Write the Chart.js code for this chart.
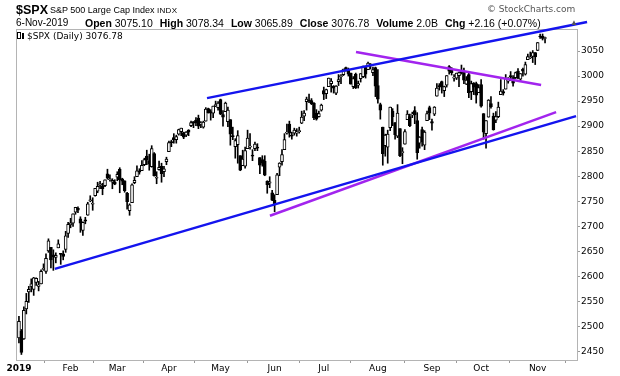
<!DOCTYPE html>
<html>
<head>
<meta charset="utf-8">
<script src="https://cdn.jsdelivr.net/npm/chart.js@4/dist/chart.umd.min.js"></script>
<style>
  body { margin: 0; background: #fff; }
  #wrap { position: relative; width: 620px; height: 376px; overflow: hidden; }
  #c { position: absolute; left: 0; top: 0; }
  .t { position: absolute; white-space: nowrap; color: #000; font-family: "Liberation Sans", Arial, sans-serif; line-height: 1; }
  .t b { font-weight: bold; font-size: 10.5px; }
  .gap { display: inline-block; width: 7px; }
</style>
</head>
<body>
<div id="wrap">
  <canvas id="c" width="620" height="376"></canvas>
  <div class="t" style="left:16px;top:4px;font-size:12.5px;font-weight:bold">$SPX</div>
  <div class="t" style="left:50px;top:6px;font-size:9px">S&amp;P 500 Large Cap Index</div>
  <div class="t" style="left:157px;top:7px;font-size:8px;letter-spacing:0.3px">INDX</div>
  <div class="t" style="left:487px;top:5px;font-size:9px;color:#555;font-family:'DejaVu Sans',sans-serif">© StockCharts.com</div>
  <div class="t" style="left:16px;top:18px;font-size:10px">6-Nov-2019</div>
  <div class="t" style="left:85px;top:18px;font-size:10.5px"><b>Open</b> 3075.10<span class="gap"></span><b>High</b> 3078.34<span class="gap"></span><b>Low</b> 3065.89<span class="gap"></span><b>Close</b> 3076.78<span class="gap"></span><b>Volume</b> 2.0B<span class="gap"></span><b>Chg</b> +2.16 (+0.07%)</div>
  <div class="t" style="left:570px;top:19px;font-size:8px;color:#555">▲</div>
  <div class="t" style="left:17px;top:32px;font-size:9px;font-family:'DejaVu Sans',sans-serif"><span style="display:inline-block;width:2px;height:5px;border:1px solid #000;vertical-align:0px"></span><span style="display:inline-block;width:2px;height:6px;background:#000;vertical-align:0px;margin:0 3px 0 1px"></span>$SPX (Daily) 3076.78</div>
</div>
<script>
// month axis
const monthLabels = ['2019', 'Feb', 'Mar', 'Apr', 'May', 'Jun', 'Jul', 'Aug', 'Sep', 'Oct', 'Nov'];
const monthStarts = [0, 21, 40, 61, 82, 104, 124, 146, 168, 188, 211];
const priceTicks = [2450, 2500, 2550, 2600, 2650, 2700, 2750, 2800, 2850, 2900, 2950, 3000, 3050];

// daily OHLC, 2-Jan-2019 .. 6-Nov-2019 (one entry per trading day)
const opens = [
  2477,2491,2475,2535,2569,2580,2574,2588,2580,2585,2614,2610,2651,2658,2643,2638,2657,2645,2645,2654,2686,
  2703,2706,2728,2736,2715,2692,2713,2722,2751,2744,2761,2770,2782,2781,2781,2805,2793,2788,2788,
  2798,2814,2795,2791,2766,2731,2747,2787,2799,2811,2811,2823,2840,2831,2819,2845,2796,2813,2820,2809,2829,
  2849,2868,2877,2873,2884,2889,2887,2882,2892,2901,2909,2912,2916,2904,2898,2910,2935,2929,2926,2941,2937,
  2953,2923,2929,2909,2913,2880,2859,2863,2841,2821,2820,2855,2858,2842,2855,2857,2837,2833,2830,2790,2786,2767,
  2752,2763,2818,2829,2853,2886,2904,2882,2886,2886,2889,2906,2920,2949,2952,2951,2946,2926,2919,2932,
  2971,2965,2979,2985,2980,2966,2989,2999,3003,3017,3012,3006,2979,3004,2982,2995,2999,3017,3013,3024,3007,3017,
  2981,2943,2898,2861,2858,2897,2930,2907,2880,2895,2847,2864,2913,2919,2922,2931,2911,2866,2893,2862,2911,2937,
  2909,2924,2960,2980,2989,2971,2982,3019,3013,2996,2996,3001,3010,3008,2984,3003,2969,2986,2985,2967,
  2983,2925,2885,2918,2945,2920,2912,2919,2963,2969,2974,2990,3001,2997,2997,3010,2994,3014,3004,3033,3036,3039,3047,
  3051,3079,3080,3075
];
const highs = [
  2520,2494,2539,2566,2580,2595,2598,2597,2590,2613,2625,2645,2675,2658,2653,2647,2673,2646,2651,2690,2708,
  2716,2725,2738,2739,2719,2709,2718,2748,2761,2757,2776,2788,2790,2786,2793,2814,2803,2795,2793,
  2809,2817,2796,2791,2768,2745,2785,2799,2821,2815,2831,2836,2852,2844,2861,2847,2809,2830,2826,2820,2838,
  2870,2872,2885,2882,2894,2896,2888,2889,2893,2910,2909,2917,2922,2909,2910,2937,2936,2933,2940,2950,2949,
  2954,2931,2948,2938,2913,2898,2875,2891,2841,2852,2858,2892,2885,2853,2868,2865,2837,2841,2841,2791,2799,2772,
  2763,2806,2827,2853,2885,2904,2910,2888,2896,2895,2898,2930,2931,2958,2964,2955,2947,2933,2930,2944,
  2978,2974,2996,2995,2981,2981,3003,3003,3014,3018,3016,3006,2999,3006,2990,3005,3019,3018,3028,3025,3018,3018,
  3013,2946,2898,2884,2892,2938,2935,2907,2943,2895,2857,2893,2931,2924,2928,2939,2927,2879,2898,2891,2930,2940,
  2914,2939,2985,2985,2990,2980,3001,3021,3017,3003,3006,3008,3022,3016,2999,3008,2990,2987,2988,2983,
  2993,2925,2911,2953,2959,2926,2929,2948,2993,2973,3003,2997,3009,3001,3008,3015,3005,3016,3028,3044,3048,3051,3047,
  3067,3084,3084,3078
];
const lows = [
  2467,2444,2474,2525,2548,2569,2562,2582,2571,2585,2612,2606,2648,2617,2612,2627,2657,2624,2633,2648,2678,
  2697,2700,2724,2727,2688,2682,2705,2722,2749,2732,2760,2767,2775,2763,2779,2794,2790,2775,2783,
  2791,2767,2783,2768,2734,2722,2747,2785,2799,2804,2811,2821,2823,2812,2818,2800,2785,2812,2788,2799,2823,
  2849,2859,2866,2866,2882,2881,2875,2879,2881,2899,2897,2901,2895,2897,2896,2910,2926,2912,2917,2939,2932,
  2923,2900,2929,2899,2862,2873,2836,2826,2811,2821,2816,2855,2854,2831,2851,2851,2805,2820,2801,2766,2777,2751,
  2729,2763,2801,2822,2853,2884,2878,2874,2882,2880,2886,2905,2911,2932,2947,2943,2913,2912,2918,2930,
  2953,2955,2979,2968,2966,2963,2981,2985,3001,3010,3000,2984,2975,2975,2976,2988,2997,2996,3013,3014,3001,2959,
  2946,2914,2822,2840,2826,2891,2901,2874,2877,2839,2825,2864,2913,2899,2917,2905,2834,2856,2860,2853,2911,2913,
  2892,2921,2960,2972,2966,2959,2978,3004,3002,2990,2993,2979,3004,2985,2983,2957,2953,2963,2946,2967,
  2938,2874,2856,2918,2936,2892,2907,2917,2963,2962,2974,2986,2991,2980,2995,2995,2991,3000,3002,3033,3035,3027,3023,
  3051,3075,3072,3066
];
const closes = [
  2510,2448,2532,2550,2574,2585,2597,2596,2583,2610,2616,2636,2671,2633,2639,2642,2665,2644,2640,2681,2704,
  2707,2725,2738,2732,2706,2708,2710,2745,2753,2746,2776,2780,2785,2775,2793,2796,2794,2792,2784,
  2804,2793,2790,2771,2749,2743,2783,2792,2811,2808,2822,2833,2833,2824,2855,2801,2798,2818,2805,2815,2834,
  2867,2867,2873,2879,2893,2896,2878,2888,2888,2907,2906,2907,2900,2905,2908,2934,2927,2926,2940,2943,2946,
  2924,2918,2946,2932,2884,2879,2871,2881,2812,2834,2851,2876,2860,2840,2864,2856,2822,2826,2802,2783,2789,2752,
  2744,2803,2826,2843,2873,2887,2886,2880,2892,2887,2890,2918,2926,2954,2950,2945,2917,2914,2925,2942,
  2964,2973,2996,2990,2976,2980,2993,3000,3014,3014,3004,2984,2995,2977,2985,3005,3020,3004,3026,3021,3013,2980,
  2954,2932,2845,2882,2884,2938,2919,2883,2926,2841,2848,2889,2924,2901,2924,2923,2847,2878,2869,2888,2925,2926,
  2906,2938,2976,2979,2978,2979,3001,3010,3007,2998,3006,3007,3007,2992,2992,2967,2985,2978,2962,2977,
  2940,2888,2911,2952,2939,2893,2919,2938,2970,2966,2996,2990,2998,2986,3007,2996,3005,3010,3023,3039,3037,3047,3038,
  3067,3078,3075,3077
];

// hand-drawn trend lines: [start, end] as {x: trading-day index, y: price}
const upperChannel = [{ x: 76.5, y: 2956 }, { x: 231.1, y: 3108 }];
const lowerChannel = [{ x: 14.6, y: 2615 }, { x: 226.6, y: 2920 }];
const upperPurple = [{ x: 137.1, y: 3048 }, { x: 212.4, y: 2982 }];
const lowerPurple = [{ x: 102.1, y: 2721 }, { x: 218.5, y: 2928 }];

const BLUE = '#1414ee';
const PURPLE = '#a224ee';

const bodies = closes.map((c, i) => ({ x: i, y: [opens[i], c] }));
const wicks = closes.map((c, i) => ({
  x: i,
  y: [Math.min(lows[i], opens[i], c), Math.max(highs[i], opens[i], c)]
}));

const trend = (data, color) => ({
  type: 'line',
  data: data,
  borderColor: color,
  borderWidth: 2.5,
  pointRadius: 0,
  clip: false,
  order: 0
});

const frame = {
  id: 'frame',
  beforeDatasetsDraw(chart) {
    const { ctx, chartArea: a } = chart;
    ctx.save();
    ctx.strokeStyle = '#b4b4b4';
    ctx.lineWidth = 1;
    ctx.strokeRect(a.left + 0.5, a.top + 0.5, a.right - a.left, a.bottom - a.top);
    ctx.restore();
  }
};

new Chart(document.getElementById('c'), {
  type: 'bar',
  data: {
    datasets: [
      trend(upperChannel, BLUE),
      trend(lowerChannel, BLUE),
      trend(upperPurple, PURPLE),
      trend(lowerPurple, PURPLE),
      {
        data: bodies,
        backgroundColor: bodies.map(b => b.y[1] >= b.y[0] ? '#ffffff' : '#000000'),
        borderColor: '#000000',
        borderWidth: 1,
        borderSkipped: false,
        barThickness: 3,
        minBarLength: 1,
        grouped: false,
        order: 1
      },
      {
        data: wicks,
        backgroundColor: '#000000',
        borderWidth: 0,
        barThickness: 1,
        grouped: false,
        order: 2
      }
    ]
  },
  options: {
    responsive: false,
    animation: false,
    layout: { padding: { left: 16, top: 29, right: 0, bottom: 0 } },
    plugins: { legend: { display: false }, tooltip: { enabled: false } },
    scales: {
      x: {
        type: 'linear',
        min: -1.2,
        max: 227,
        offset: false,
        afterBuildTicks: s => { s.ticks = monthStarts.map(v => ({ value: v })); },
        afterFit: s => { s.height = 16; },
        grid: { drawOnChartArea: false, drawTicks: true, tickLength: 3, color: '#999' },
        border: { display: true, color: '#b4b4b4' },
        ticks: {
          autoSkip: false,
          maxRotation: 0,
          padding: 0,
          color: '#000',
          font: c => ({
            family: 'DejaVu Sans',
            size: 9,
            weight: c.tick && c.tick.value === 0 ? 'bold' : 'normal'
          }),
          callback: v => monthLabels[monthStarts.indexOf(v)]
        }
      },
      y: {
        position: 'right',
        min: 2433,
        max: 3094,
        afterBuildTicks: s => { s.ticks = priceTicks.map(v => ({ value: v })); },
        afterFit: s => { s.width = 43; },
        grid: { drawOnChartArea: false, drawTicks: true, tickLength: 3, color: '#999' },
        border: { display: true, color: '#b4b4b4' },
        ticks: {
          padding: 1,
          color: '#000',
          font: { family: 'DejaVu Sans', size: 9 },
          callback: v => String(v)
        }
      }
    }
  },
  plugins: [frame]
});
</script>
</body>
</html>
